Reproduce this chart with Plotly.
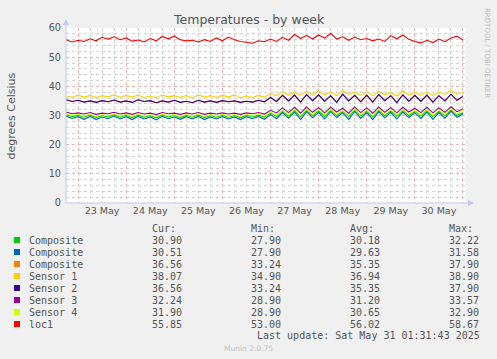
import pandas as pd
import plotly.graph_objects as go

# ---------------- data ----------------
start_time = "2025-05-22 18:00"
step = "3h"

series_names = ["Composite", "Composite", "Composite", "Sensor 1", "Sensor 2", "Sensor 3", "Sensor 4", "loc1"]
series_colors = ["#00CC00", "#0066B3", "#FF8000", "#FFCC00", "#330099", "#990099", "#CCFF00", "#FF0000"]

composite_green = [
    30.4, 29.6,
    30.1, 29.4, 30.2, 29.3, 30.0, 29.5, 30.3, 29.4,
    30.1, 29.3, 30.2, 29.4, 30.0, 29.2, 30.2, 29.5,
    30.0, 29.3, 30.1, 29.4, 30.2, 29.3, 30.0, 29.4,
    30.1, 29.4, 30.0, 29.3, 30.1, 29.5, 30.2, 29.4,
    30.9, 29.6, 31.5, 29.8, 31.7, 29.5, 31.8, 29.9,
    31.6, 29.7, 31.8, 30.0, 31.4, 29.6, 31.9, 29.8,
    31.5, 29.5, 31.8, 29.9, 31.6, 29.7, 31.7, 30.0,
    31.4, 29.8, 31.7, 29.6, 31.5, 29.9, 32.0, 30.1,
    30.90]

composite_blue = [
    29.8, 29.0,
    29.6, 28.7, 29.7, 28.6, 29.5, 28.9, 29.8, 28.8,
    29.6, 28.6, 29.7, 28.8, 29.5, 28.5, 29.7, 28.9,
    29.5, 28.7, 29.6, 28.8, 29.7, 28.6, 29.5, 28.8,
    29.6, 28.8, 29.5, 28.6, 29.6, 28.9, 29.7, 28.7,
    30.4, 28.9, 31.0, 29.1, 31.2, 28.6, 31.3, 29.2,
    31.1, 28.8, 31.3, 29.3, 30.9, 28.7, 31.4, 29.0,
    31.0, 28.6, 31.3, 29.2, 31.1, 28.8, 31.2, 29.3,
    30.9, 29.0, 31.2, 28.7, 31.0, 29.1, 31.5, 29.4,
    30.51]

sensor1 = [
    36.8, 36.2,
    37.0, 36.3, 36.9, 36.1, 36.8, 36.4, 37.1, 36.2,
    36.9, 36.3, 37.0, 36.2, 36.7, 36.1, 37.0, 36.4,
    36.8, 36.2, 36.9, 36.0, 37.1, 36.3, 36.8, 36.2,
    36.9, 36.4, 37.0, 36.1, 36.7, 36.2, 36.9, 36.3,
    37.6, 36.8, 38.2, 37.0, 38.0, 36.9, 38.3, 37.1,
    38.4, 37.0, 38.1, 36.8, 38.5, 37.2, 38.0, 36.9,
    38.2, 36.8, 38.3, 37.1, 37.9, 36.7, 38.4, 37.0,
    38.1, 36.9, 38.2, 36.8, 38.0, 37.2, 38.6, 37.3,
    38.07]

sensor2 = [
    35.4, 34.8,
    35.2, 34.6, 35.0, 34.5, 35.1, 34.7, 35.3, 34.6,
    35.0, 34.5, 35.4, 34.8, 35.1, 34.4, 35.0, 34.6,
    35.2, 34.5, 34.9, 34.4, 35.2, 34.6, 35.0, 34.5,
    35.1, 34.7, 35.0, 34.5, 34.9, 34.6, 35.2, 34.7,
    36.2, 34.8, 36.9, 35.0, 37.0, 34.6, 37.2, 35.1,
    37.1, 34.9, 36.8, 34.5, 37.3, 35.0, 36.9, 34.7,
    37.0, 34.6, 37.2, 35.1, 36.8, 34.4, 37.1, 34.9,
    36.9, 34.8, 37.0, 34.6, 36.8, 35.0, 37.3, 35.2,
    36.56]

composite_orange = list(sensor2)

sensor3 = [
    31.2, 30.6,
    30.9, 30.5, 31.0, 30.4, 30.8, 30.6, 31.1, 30.5,
    30.9, 30.4, 31.0, 30.5, 30.8, 30.3, 31.0, 30.6,
    30.8, 30.4, 30.9, 30.5, 31.0, 30.4, 30.8, 30.5,
    30.9, 30.5, 30.8, 30.4, 30.9, 30.6, 31.0, 30.5,
    31.8, 30.9, 32.6, 31.0, 32.8, 30.8, 32.9, 31.1,
    32.7, 30.9, 32.8, 31.2, 32.5, 30.8, 32.9, 31.0,
    32.6, 30.8, 32.9, 31.1, 32.7, 30.9, 32.8, 31.2,
    32.5, 31.0, 32.8, 30.9, 32.6, 31.1, 33.0, 31.3,
    32.24]

sensor4 = [
    30.6, 30.0,
    30.4, 29.8, 30.5, 29.7, 30.3, 29.9, 30.6, 29.8,
    30.4, 29.7, 30.5, 29.8, 30.3, 29.6, 30.5, 29.9,
    30.3, 29.7, 30.4, 29.8, 30.5, 29.7, 30.3, 29.8,
    30.4, 29.8, 30.3, 29.7, 30.4, 29.9, 30.5, 29.8,
    31.2, 30.0, 31.9, 30.2, 32.1, 29.9, 32.2, 30.3,
    32.0, 30.1, 32.2, 30.4, 31.8, 30.0, 32.3, 30.2,
    31.9, 29.9, 32.2, 30.3, 32.0, 30.1, 32.1, 30.4,
    31.8, 30.2, 32.1, 30.0, 31.9, 30.3, 32.4, 30.5,
    31.90]

loc1 = [
    56.0, 55.2,
    55.8, 55.4, 56.3, 55.6, 56.8, 56.2, 57.0, 56.0,
    56.6, 55.5, 55.9, 55.2, 56.4, 55.6, 57.1, 56.3,
    57.2, 56.0, 55.6, 55.8, 55.2, 56.0, 55.4, 56.6,
    55.6, 56.9, 56.0, 55.4, 55.1, 54.8, 55.6, 55.3,
    56.2, 55.4, 56.8, 55.8, 57.8, 56.4, 57.5, 56.2,
    57.6, 56.5, 58.2, 56.2, 57.0, 55.8, 56.9, 56.0,
    56.4, 55.6, 56.2, 55.4, 57.4, 56.3, 57.6, 56.1,
    55.4, 54.9, 55.8, 55.0, 56.2, 55.3, 56.6, 57.2,
    55.85]

series_values = [composite_green, composite_blue, composite_orange, sensor1,
                 sensor2, sensor3, sensor4, loc1]

cur_vals = ["30.90", "30.51", "36.56", "38.07", "36.56", "32.24", "31.90", "55.85"]
min_vals = ["27.90", "27.90", "33.24", "34.90", "33.24", "28.90", "28.90", "53.00"]
avg_vals = ["30.18", "29.63", "35.35", "36.94", "35.35", "31.20", "30.65", "56.02"]
max_vals = ["32.22", "31.58", "37.90", "38.90", "37.90", "33.57", "32.90", "58.67"]

x_range = ["2025-05-22 18:00", "2025-05-31 01:30"]
y_range = [0, 60]

title_text = "Temperatures - by week"
y_title = "degrees Celsius"
last_update = "Last update: Sat May 31 01:31:43 2025"
rrd_text = "RRDTOOL / TOBI OETIKER"
munin_text = "Munin 2.0.75"

# ---------------- figure ----------------
W, H = 497, 359
PL, PR, PT, PB = 66, 466, 28, 203  # plot area in pixels


def px(xp):
    return (xp - PL) / (PR - PL)


def py(yp):
    return (PB - yp) / (PB - PT)


times = pd.date_range(start_time, periods=len(loc1), freq=step)

fig = go.Figure()
for name, color, vals in zip(series_names, series_colors, series_values):
    fig.add_trace(go.Scatter(x=times, y=vals, mode="lines", name=name,
                             line=dict(color=color, width=1.1), showlegend=False,
                             hoverinfo="skip"))

AXIS_BLUE = "#C2C6F2"
MAJOR = "#E9B4B4"
MINOR = "#D4D4D4"
TEXT = "#555555"

fig.update_layout(
    width=W, height=H,
    margin=dict(l=PL, r=W - PR, t=PT, b=H - PB, pad=0),
    paper_bgcolor="#F0F0F0",
    plot_bgcolor="#FFFFFF",
    font=dict(family="DejaVu Sans", color=TEXT, size=10),
    showlegend=False,
)

fig.update_xaxes(
    type="date", range=x_range,
    tick0="2025-05-23 00:00", dtick=86400000,
    ticklabelmode="period", tickformat="%-d %b",
    tickfont=dict(size=9.5, color=TEXT, family="DejaVu Sans"),
    showgrid=True, gridcolor=MAJOR, griddash="dot", gridwidth=1,
    minor=dict(dtick=6 * 3600 * 1000, showgrid=True, gridcolor=MINOR, griddash="dot", gridwidth=1),
    showline=False, zeroline=False, ticks="", fixedrange=True, automargin=False,
)
fig.update_yaxes(
    range=y_range, dtick=10, tick0=0,
    tickfont=dict(size=9.7, color=TEXT, family="DejaVu Sans"),
    showgrid=True, gridcolor=MAJOR, griddash="dot", gridwidth=1,
    minor=dict(dtick=2, showgrid=True, gridcolor=MINOR, griddash="dot", gridwidth=1),
    showline=False, zeroline=False, ticks="", ticklabelstandoff=4, fixedrange=True, automargin=False,
)

shapes = []
# axis lines with arrows
shapes.append(dict(type="line", xref="paper", yref="paper", x0=px(66), x1=px(66), y0=py(203), y1=py(24),
                   line=dict(color=AXIS_BLUE, width=1)))
shapes.append(dict(type="line", xref="paper", yref="paper", x0=px(66), x1=px(470), y0=py(203), y1=py(203),
                   line=dict(color=AXIS_BLUE, width=1)))
shapes.append(dict(type="path", xref="paper", yref="paper",
                   path=f"M {px(63)} {py(25)} L {px(69)} {py(25)} L {px(66)} {py(19)} Z",
                   fillcolor=AXIS_BLUE, line=dict(color=AXIS_BLUE, width=0)))
shapes.append(dict(type="path", xref="paper", yref="paper",
                   path=f"M {px(468)} {py(200)} L {px(468)} {py(206)} L {px(474)} {py(203)} Z",
                   fillcolor=AXIS_BLUE, line=dict(color=AXIS_BLUE, width=0)))

annotations = []
annotations.append(dict(text=title_text, xref="paper", yref="paper", x=px(248.5), y=py(19),
                        xanchor="center", yanchor="middle", showarrow=False,
                        font=dict(size=12.5, color=TEXT, family="DejaVu Sans")))
annotations.append(dict(text=y_title, xref="paper", yref="paper", x=px(11), y=py(115.5),
                        xanchor="center", yanchor="middle", showarrow=False, textangle=-90,
                        font=dict(size=11, color=TEXT, family="DejaVu Sans")))
annotations.append(dict(text=rrd_text, xref="paper", yref="paper", x=px(487), y=py(53),
                        xanchor="center", yanchor="middle", showarrow=False, textangle=90,
                        font=dict(size=7, color="#BDBDBD", family="DejaVu Sans")))

MONO = dict(family="DejaVu Sans Mono", size=10, color=TEXT)
col_x = [150, 249, 348, 447]
headers = ["Cur:", "Min:", "Avg:", "Max:"]
for cx, h in zip(col_x, headers):
    annotations.append(dict(text=h, xref="paper", yref="paper", x=px(cx), y=py(228),
                            xanchor="left", yanchor="middle", showarrow=False, font=MONO))

row_y0, row_dy = 240, 12
for i, (name, color) in enumerate(zip(series_names, series_colors)):
    yy = row_y0 + i * row_dy
    shapes.append(dict(type="rect", xref="paper", yref="paper",
                       x0=px(14), x1=px(20), y0=py(yy - 3), y1=py(yy + 3),
                       fillcolor=color, line=dict(width=0)))
    annotations.append(dict(text=name, xref="paper", yref="paper", x=px(27), y=py(yy),
                            xanchor="left", yanchor="middle", showarrow=False, font=MONO))
    for cx, v in zip(col_x, [cur_vals[i], min_vals[i], avg_vals[i], max_vals[i]]):
        annotations.append(dict(text=v, xref="paper", yref="paper", x=px(cx), y=py(yy),
                                xanchor="left", yanchor="middle", showarrow=False, font=MONO))

annotations.append(dict(text=last_update, xref="paper", yref="paper", x=px(482), y=py(335),
                        xanchor="right", yanchor="middle", showarrow=False, font=MONO))
annotations.append(dict(text=munin_text, xref="paper", yref="paper", x=px(248), y=py(348),
                        xanchor="center", yanchor="middle", showarrow=False,
                        font=dict(family="DejaVu Sans", size=7.5, color="#C4C4C4")))

fig.update_layout(shapes=shapes, annotations=annotations)

fig.write_html("out.html", config={"displayModeBar": False},
               post_script="document.body.style.margin='0';document.body.style.background='#F0F0F0';")
